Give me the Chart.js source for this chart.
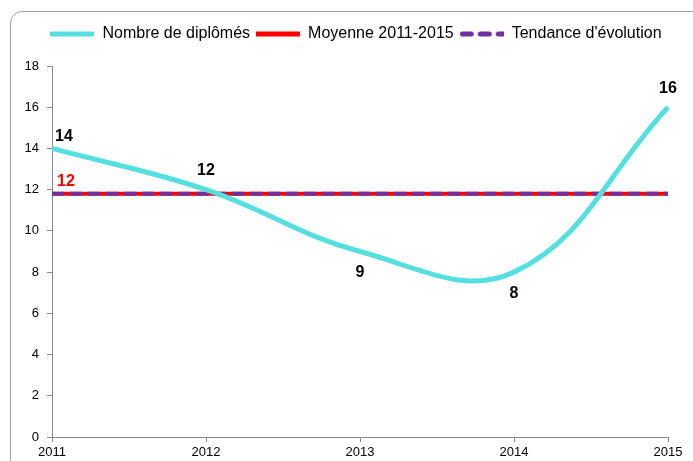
<!DOCTYPE html>
<html lang="fr">
<head>
  <meta charset="UTF-8">
  <title>Nombre de diplômés</title>
  <style>
    html, body { margin: 0; padding: 0; background: #fff; overflow: hidden; }
    #wrap { position: relative; width: 693px; height: 461px; overflow: hidden; }
    #cadre { position: absolute; left: 10px; top: 11px; width: 720px; height: 490px;
             border: 1px solid #a0a0a0; border-radius: 12px; }
    #graphique { position: absolute; left: 0; top: 0; }
  </style>
</head>
<body>
<div id="wrap">
  <div id="cadre"></div>
  <canvas id="graphique" width="693" height="461"></canvas>
</div>

<script src="https://cdn.jsdelivr.net/npm/chart.js"></script>
<script>
  // données
  const annees = ['2011', '2012', '2013', '2014', '2015'];
  const diplomes = [14, 12, 9, 8, 16];
  const moyenne = [11.8, 11.8, 11.8, 11.8, 11.8];
  const tendance = [11.8, 11.8, 11.8, 11.8, 11.8];
  const etiquetteMoyenne = '12';
  const placeEtiquettes = ['haut', 'haut', 'bas', 'bas', 'haut'];

  const police = "'Liberation Sans', Arial, sans-serif";

  // petit trait pour la légende
  function traitLegende(couleur, tirets) {
    const c = document.createElement('canvas');
    c.width = 44;
    c.height = 6;
    const g = c.getContext('2d');
    g.strokeStyle = couleur;
    g.lineWidth = 5;
    if (tirets) {
      g.lineCap = 'round';
      g.setLineDash([9, 9]);
      g.beginPath();
      g.moveTo(2.5, 3);
      g.lineTo(44, 3);
    } else {
      g.beginPath();
      g.moveTo(0, 3);
      g.lineTo(44, 3);
    }
    g.stroke();
    return c;
  }

  // étiquettes de valeurs
  const etiquettes = {
    id: 'etiquettes',
    afterDatasetsDraw(chart) {
      const ctx = chart.ctx;
      const zone = chart.chartArea;
      ctx.save();
      ctx.font = 'bold 16px ' + police;
      ctx.textAlign = 'center';
      ctx.textBaseline = 'middle';
      ctx.fillStyle = '#000';
      chart.getDatasetMeta(0).data.forEach((pt, i) => {
        const txt = String(diplomes[i]);
        const w = ctx.measureText(txt).width;
        let x = pt.x;
        let dy = 19;
        if (x - w / 2 < zone.left) { x = zone.left + w / 2 + 3; dy = 12; }
        const y = placeEtiquettes[i] === 'haut' ? pt.y - dy : pt.y + 21;
        ctx.fillText(txt, x, y);
      });
      const m = chart.getDatasetMeta(1).data[0];
      const w = ctx.measureText(etiquetteMoyenne).width;
      ctx.fillStyle = '#ff0000';
      ctx.fillText(etiquetteMoyenne, m.x + w / 2 + 5, m.y - 12);
      ctx.restore();
    }
  };

  // hauteur fixe de la légende, décalée vers la droite
  const reglageLegende = {
    id: 'reglageLegende',
    beforeInit(chart) {
      const fitOrig = chart.legend.fit;
      chart.legend.fit = function () {
        fitOrig.bind(chart.legend)();
        this.height = 46;
      };
    },
    afterLayout(chart) {
      chart.legend.left += 22;
      chart.legend.right += 22;
    }
  };

  new Chart(document.getElementById('graphique').getContext('2d'), {
    type: 'line',
    data: {
      labels: annees,
      datasets: [
        {
          label: 'Nombre de diplômés',
          data: diplomes,
          borderColor: '#55dfdf',
          backgroundColor: '#55dfdf',
          borderWidth: 5,
          tension: 0.4,
          pointRadius: 0,
          order: 0
        },
        {
          label: 'Moyenne 2011-2015',
          data: moyenne,
          borderColor: '#ff0000',
          backgroundColor: '#ff0000',
          borderWidth: 4,
          pointRadius: 0,
          order: 2
        },
        {
          label: "Tendance d'évolution",
          data: tendance,
          borderColor: '#7030a0',
          backgroundColor: '#7030a0',
          borderWidth: 4,
          borderDash: [12, 6],
          pointRadius: 0,
          order: 1
        }
      ]
    },
    options: {
      responsive: false,
      animation: false,
      layout: { padding: { top: 20, right: 25, left: 0, bottom: 0 } },
      plugins: {
        tooltip: { enabled: false },
        legend: {
          position: 'top',
          labels: {
            color: '#000',
            font: { family: police, size: 16 },
            usePointStyle: true,
            pointStyleWidth: 44,
            padding: 6,
            generateLabels(chart) {
              return chart.data.datasets.map((ds, i) => ({
                text: ds.label,
                pointStyle: traitLegende(ds.borderColor, !!ds.borderDash),
                fillStyle: ds.borderColor,
                strokeStyle: ds.borderColor,
                lineWidth: 0,
                fontColor: '#000',
                hidden: false,
                datasetIndex: i
              }));
            }
          }
        }
      },
      scales: {
        x: {
          offset: false,
          afterFit(s) { s.height = 24; },
          grid: { drawOnChartArea: false, drawTicks: true, tickLength: 5, color: '#888' },
          border: { color: '#888' },
          ticks: { color: '#000', font: { family: police, size: 13 }, padding: 3, maxRotation: 0 }
        },
        y: {
          min: 0,
          max: 18,
          afterFit(s) { s.width = 52; },
          grid: { drawOnChartArea: false, drawTicks: true, tickLength: 5, color: '#888' },
          border: { color: '#888' },
          ticks: { stepSize: 2, color: '#000', font: { family: police, size: 13 }, padding: 8 }
        }
      }
    },
    plugins: [etiquettes, reglageLegende]
  });
</script>
</body>
</html>
